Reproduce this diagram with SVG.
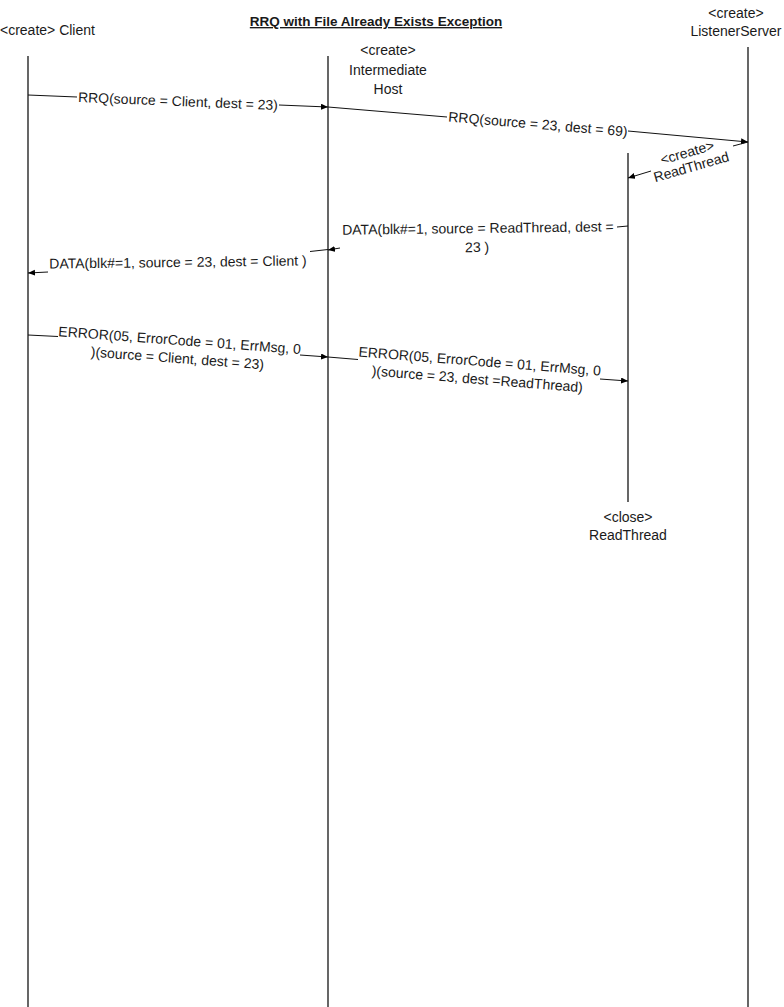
<svg xmlns="http://www.w3.org/2000/svg" width="784" height="1007" viewBox="0 0 784 1007">
<style>
text{font-family:"Liberation Sans",Arial,sans-serif;font-size:14px;fill:#1a1a1a}
.c{text-anchor:middle}
.title{font-weight:bold;font-size:13.5px;text-decoration:underline}
.life{stroke:#000;stroke-width:1.2;fill:none}
.msg{stroke:#111;stroke-width:1;fill:none}
</style>
<defs>
<marker id="ah" markerUnits="userSpaceOnUse" markerWidth="8" markerHeight="7" refX="7" refY="3" orient="auto">
<path d="M0,0 L7,3 L0,6 z" fill="#000"/>
</marker>
</defs>
<rect width="784" height="1007" fill="#fff"/>
<text class="title c" x="376" y="26">RRQ with File Already Exists Exception</text>
<g id="client">
<text x="0" y="35">&lt;create&gt; Client</text>
<line class="life" x1="28" y1="56" x2="28" y2="1007"/>
</g>
<g id="intermediate">
<text class="c" x="388" y="55">&lt;create&gt;</text>
<text class="c" x="388" y="75">Intermediate</text>
<text class="c" x="388" y="94">Host</text>
<line class="life" x1="328" y1="56" x2="328" y2="1007"/>
</g>
<g id="listener">
<text class="c" x="736" y="18">&lt;create&gt;</text>
<text class="c" x="736" y="36">ListenerServer</text>
<line class="life" x1="748" y1="47" x2="748" y2="1007"/>
</g>
<g id="readthread">
<line class="life" x1="628" y1="153" x2="628" y2="502"/>
<text class="c" x="628" y="522">&lt;close&gt;</text>
<text class="c" x="628" y="540">ReadThread</text>
</g>
<g id="connectors">
<line class="msg" x1="28" y1="95" x2="77" y2="97"/>
<line class="msg" x1="279" y1="105" x2="328" y2="107" marker-end="url(#ah)"/>
<text class="c" x="178" y="106" transform="rotate(2.3 178 101)">RRQ(source = Client, dest = 23)</text>
<line class="msg" x1="328" y1="107" x2="447" y2="117"/>
<line class="msg" x1="628" y1="131" x2="748" y2="142" marker-end="url(#ah)"/>
<text class="c" x="538" y="129" transform="rotate(4.76 538 124.5)">RRQ(source = 23, dest = 69)</text>
<line class="msg" x1="748" y1="142" x2="733" y2="146"/>
<line class="msg" x1="651" y1="171" x2="628" y2="178" marker-end="url(#ah)"/>
<g transform="rotate(-16 689 159)">
<text class="c" x="689" y="157">&lt;create&gt;</text>
<text class="c" x="689" y="172">ReadThread</text>
</g>
<line class="msg" x1="628" y1="226" x2="617" y2="227"/>
<line class="msg" x1="340" y1="248" x2="328" y2="250" marker-end="url(#ah)"/>
<g transform="rotate(-0.7 478 238)">
<text class="c" x="478" y="233">DATA(blk#=1, source = ReadThread, dest =</text>
<text class="c" x="477" y="252">23 )</text>
</g>
<line class="msg" x1="328" y1="249.5" x2="310" y2="251.5"/>
<line class="msg" x1="48" y1="272" x2="28" y2="273" marker-end="url(#ah)"/>
<text class="c" x="178" y="267" transform="rotate(-0.7 178 262)">DATA(blk#=1, source = 23, dest = Client )</text>
<line class="msg" x1="28" y1="335" x2="58" y2="336.5"/>
<line class="msg" x1="300" y1="355" x2="328" y2="357" marker-end="url(#ah)"/>
<g transform="rotate(4.2 178 350)">
<text class="c" x="179" y="345">ERROR(05, ErrorCode = 01, ErrMsg, 0</text>
<text class="c" x="178" y="363">)(source = Client, dest = 23)</text>
</g>
<line class="msg" x1="328" y1="357" x2="358" y2="359.5"/>
<line class="msg" x1="600" y1="379" x2="628" y2="381" marker-end="url(#ah)"/>
<g transform="rotate(4.5 479 371)">
<text class="c" x="479" y="366">ERROR(05, ErrorCode = 01, ErrMsg, 0</text>
<text class="c" x="478" y="384">)(source = 23, dest =ReadThread)</text>
</g>
</g>
</svg>
